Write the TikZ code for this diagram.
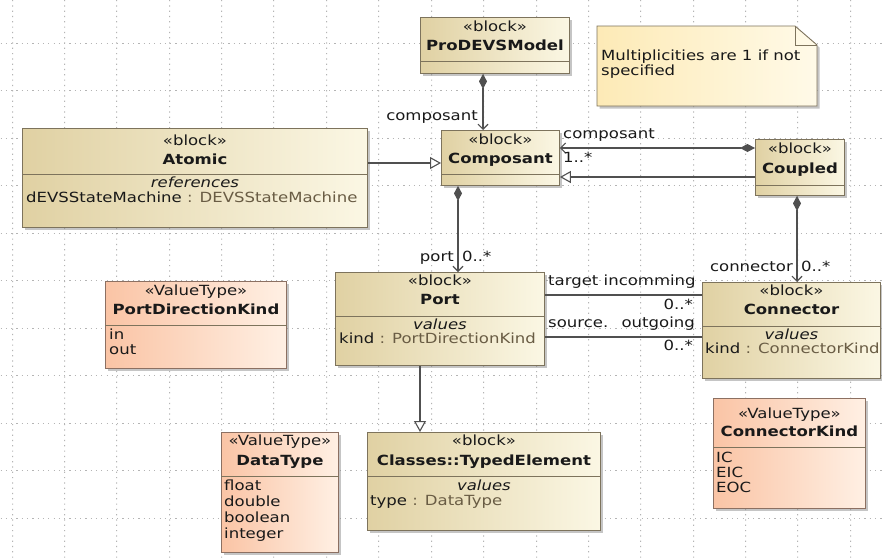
\documentclass[tikz,border=0pt]{standalone}
\usepackage{fontspec}
\setmainfont{DejaVu Sans}[FakeStretch=1.18]
\usetikzlibrary{arrows.meta,shadows}
\definecolor{blkA}{RGB}{224,209,163}
\definecolor{blkB}{RGB}{251,247,228}
\definecolor{vtA}{RGB}{250,196,165}
\definecolor{vtB}{RGB}{255,240,228}
\definecolor{ntA}{RGB}{253,234,182}
\definecolor{ntB}{RGB}{255,250,232}
\definecolor{bordc}{RGB}{125,115,92}
\definecolor{vtbord}{RGB}{140,112,98}
\definecolor{linec}{RGB}{80,80,80}
\definecolor{txtc}{RGB}{25,25,25}
\definecolor{typc}{RGB}{105,92,68}
\definecolor{gridc}{RGB}{180,180,180}
\newcommand\dfs{\fontsize{14}{16}\selectfont}
\newcommand\mkbox[7]{%
  \node[#1, minimum width=#5, minimum height=#6, anchor=north west] (#2) at (#3,#4) {};
  \draw[sepc] (#2.west |- 0,#7) -- (#2.east |- 0,#7);}
\tikzset{
  boxbase/.style={draw=bordc, line width=0.9pt, inner sep=0pt, rectangle,
    drop shadow={shadow xshift=2.5pt, shadow yshift=-2.5pt, fill=black!45, opacity=0.5}},
  blockbox/.style={boxbase, left color=blkA, right color=blkB},
  vtbox/.style={boxbase, draw=vtbord, left color=vtA, right color=vtB},
  sepc/.style={draw=bordc, line width=0.8pt},
  st/.style={inner sep=0pt, anchor=mid, text=txtc, font=\dfs},
  nm/.style={st, font=\dfs\bfseries},
  it/.style={st, font=\dfs\itshape},
  attr/.style={st, anchor=mid west},
  lbl/.style={inner sep=0pt, text=txtc, font=\dfs},
  compo/.style={draw=linec, line width=1.1pt,
    arrows={Diamond[length=15pt,width=8pt,fill=linec]-Straight Barb[length=5pt,width=10pt]}},
  gen/.style={draw=linec, line width=1.1pt,
    arrows={-Triangle[open,length=11pt,width=12pt,fill=white]}},
  gridl/.style={draw=gridc, line width=1.2pt, line cap=butt, dash pattern=on 1.2pt off 4.1pt}
}
\begin{document}
\begin{tikzpicture}[x=1pt,y=-1pt]
\useasboundingbox[fill=white] (0,0) rectangle (882,558);
% grid: vertical dotted lines as rows of small squares
\foreach \gx in {12,64,116,169,221,273,326,378,431,483,536,588,640,693,745,797,850}
  \fill[gridc] \foreach \k in {0,...,105} {(\gx,{5.3*\k}) rectangle ++(1.2,1.2)};
\foreach \gy in {43.5,90.5,138.5,185.5,233.5,280.5,328.5,375.5,423.5,470.5,518.5}
  \draw[gridl] (0.5,\gy) -- (882,\gy);

% note
\path[draw=bordc, line width=0.9pt, left color=ntA, right color=ntB,
  drop shadow={shadow xshift=2.5pt, shadow yshift=-2.5pt, fill=black!45, opacity=0.5}]
  (597,26) -- (795,26) -- (817,45) -- (817,106) -- (597,106) -- cycle;
\draw[draw=bordc, line width=0.9pt] (795,26) -- (795,45) -- (817,45);
\node[attr] (note1) at (601,58) {Multiplicities are 1 if not};
\node[attr] (note2) at (601,73) {specified};

% ProDEVSModel
\mkbox{blockbox}{prodevs}{420}{17}{149}{56}{61}
\node[st] (pd1) at (prodevs.north |- 0,29) {«block»};
\node[nm] (pd2) at (prodevs.north |- 0,48) {ProDEVSModel};

% Composant
\mkbox{blockbox}{composant}{441}{130}{118}{55}{174}
\node[st] (cp1) at (composant.north |- 0,142) {«block»};
\node[nm] (cp2) at (composant.north |- 0,161) {Composant};

% Atomic
\mkbox{blockbox}{atomic}{22}{128}{345}{99}{174}
\node[st] (at1) at (atomic.north |- 0,143) {«block»};
\node[nm] (at2) at (atomic.north |- 0,162) {Atomic};
\node[it] (at3) at (atomic.north |- 0,185) {references};
\node[attr] (at4) at (26,200) {dEVSStateMachine \textcolor{typc}{: DEVSStateMachine}};

% Coupled
\mkbox{blockbox}{coupled}{755}{139}{89}{56}{185}
\node[st] (cu1) at (coupled.north |- 0,151) {«block»};
\node[nm] (cu2) at (coupled.north |- 0,171) {Coupled};

% Port
\mkbox{blockbox}{port}{335}{272}{209}{93}{316}
\node[st] (po1) at (port.north |- 0,283) {«block»};
\node[nm] (po2) at (port.north |- 0,302) {Port};
\node[it] (po3) at (port.north |- 0,327) {values};
\node[attr] (po4) at (339,341) {kind \textcolor{typc}{: PortDirectionKind}};

% Connector
\mkbox{blockbox}{connector}{702}{282}{178}{96}{326}
\node[st] (co1) at (connector.north |- 0,293) {«block»};
\node[nm] (co2) at (connector.north |- 0,312) {Connector};
\node[it] (co3) at (connector.north |- 0,337) {values};
\node[attr] (co4) at (705,351) {kind \textcolor{typc}{: ConnectorKind}};

% PortDirectionKind
\mkbox{vtbox}{pdk}{105}{281}{181}{87}{325}
\node[st] (pk1) at (pdk.north |- 0,293) {«ValueType»};
\node[nm] (pk2) at (pdk.north |- 0,312) {PortDirectionKind};
\node[attr] (pk3) at (109,337) {in};
\node[attr] (pk4) at (109,352) {out};

% ConnectorKind
\mkbox{vtbox}{ck}{713}{398}{152}{110}{447}
\node[st] (ck1) at (ck.north |- 0,416) {«ValueType»};
\node[nm] (ck2) at (ck.north |- 0,434) {ConnectorKind};
\node[attr] (ck3) at (716,460) {IC};
\node[attr] (ck4) at (716,475) {EIC};
\node[attr] (ck5) at (716,490) {EOC};

% DataType
\mkbox{vtbox}{dt}{221}{432}{117}{120}{476}
\node[st] (dt1) at (dt.north |- 0,443) {«ValueType»};
\node[nm] (dt2) at (dt.north |- 0,463) {DataType};
\node[attr] (dt3) at (224,488) {float};
\node[attr] (dt4) at (224,504) {double};
\node[attr] (dt5) at (224,520) {boolean};
\node[attr] (dt6) at (224,536) {integer};

% TypedElement
\mkbox{blockbox}{te}{367}{432}{233}{98}{476}
\node[st] (te1) at (te.north |- 0,443) {«block»};
\node[nm] (te2) at (te.north |- 0,463) {Classes::TypedElement};
\node[it] (te3) at (te.north |- 0,488) {values};
\node[attr] (te4) at (370,503) {type \textcolor{typc}{: DataType}};

% connectors
\draw[compo] (prodevs.south -| 483,0) -- (composant.north -| 483,0);
\node[lbl, anchor=mid east] (l1) at (478,118) {composant};

\draw[gen] (atomic.east |- 0,163) -- (composant.west |- 0,163);

\draw[compo] (coupled.west |- 0,148) -- (composant.east |- 0,148);
\node[lbl, anchor=mid west] (l2) at (563,136) {composant};
\node[lbl, anchor=mid west] (l3) at (563,160) {1..*};

\draw[gen] (coupled.west |- 0,177) -- (composant.east |- 0,177);

\draw[compo] (composant.south -| 458,0) -- (port.north -| 458,0);
\node[lbl, anchor=mid east] (l4) at (454,259) {port};
\node[lbl, anchor=mid west] (l5) at (462,259) {0..*};

\draw[compo] (coupled.south -| 797,0) -- (connector.north -| 797,0);
\node[lbl, anchor=mid east] (l6) at (793,269) {connector};
\node[lbl, anchor=mid west] (l7) at (801,269) {0..*};

\draw[draw=linec, line width=1.1pt] (port.east |- 0,295) -- (connector.west |- 0,295);
\node[lbl, anchor=mid west] (l8) at (548,283) {target incomming};
\node[lbl, anchor=mid east] (l9) at (693,307) {0..*};

\draw[draw=linec, line width=1.1pt] (port.east |- 0,337) -- (connector.west |- 0,337);
\node[lbl, anchor=mid west] (l10) at (548,325) {source.};
\node[lbl, anchor=mid east] (l11) at (695,325) {outgoing};
\node[lbl, anchor=mid east] (l12) at (693,348) {0..*};

\draw[gen] (port.south -| 420,0) -- (te.north -| 420,0);
\end{tikzpicture}
\end{document}
